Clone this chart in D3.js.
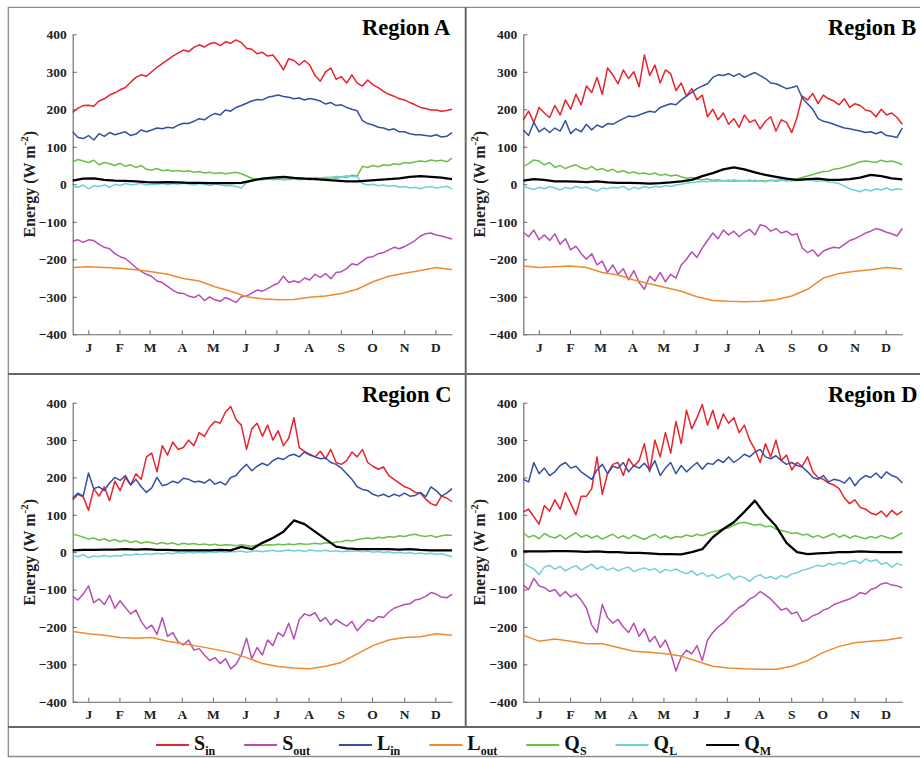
<!DOCTYPE html>
<html>
<head>
<meta charset="utf-8">
<script src="https://cdn.jsdelivr.net/npm/d3@7"></script>
<style>
  body { margin: 0; background: #fff; }
  svg { display: block; }
  text { font-family: "Liberation Serif", "Times New Roman", serif; font-weight: bold; }
</style>
</head>
<body>
<svg id="fig" width="920" height="758"></svg>
<script>
// ---- axis labels and ticks ----
const monthLabels = ["J","F","M","A","M","J","J","A","S","O","N","D"];
const monthMidDays = [15,45,74,105,135,166,196,227,258,288,319,349];
const energyTicks = [-400,-300,-200,-100,0,100,200,300,400];
const regionTitles = ["Region A","Region B","Region C","Region D"];

// ---- series (W m-2), evenly spaced through the year ----
const seriesKeys = ["Sin","Sout","Lin","Lout","QS","QL","QM"];
const seriesColors = ["#e8232b","#b84db3","#3550a3","#f08a2e","#6cbf48","#71cfdb","#000000"];
const seriesMain = ["S","S","L","L","Q","Q","Q"];
const seriesSub = ["in","out","in","out","S","L","M"];

// Region A
const aSin = [192,203,210,211,208,222, 228,238,244,252,258,272, 285,292,288,300,312,322, 332,342,350,358,354,365, 372,366,375,378,370,380, 376,385,378,363,360,348, 352,342,345,327,305,335, 330,318,330,318,290,275, 300,310,280,287,270,292, 270,262,278,265,258,248, 240,235,228,225,218,212, 205,202,198,198,195,197, 200];
const aSout = [-152,-148,-155,-148,-150,-160, -168,-172,-185,-193,-198,-210, -222,-232,-240,-246,-258,-262, -272,-282,-290,-291,-298,-302, -295,-310,-300,-308,-312,-302, -308,-315,-300,-298,-290,-282, -285,-278,-270,-264,-245,-262, -258,-262,-250,-255,-240,-248, -238,-252,-235,-233,-225,-212, -215,-205,-195,-193,-185,-182, -175,-168,-172,-166,-158,-150, -138,-132,-130,-135,-138,-142, -146];
const aLin = [140,125,122,130,118,135, 128,138,132,136,140,130, 134,145,140,145,150,148, 152,150,158,163,162,168, 175,172,182,189,185,198, 195,205,210,216,222,226, 225,232,235,238,234,232, 228,230,225,229,226,222, 214,218,210,212,205,200, 196,170,162,158,152,150, 145,148,140,140,135,132, 132,130,128,132,126,128, 138];
const aLout = [-222,-220,-222,-224,-228,-233,-240,-251,-258,-273,-285,-300,-305,-308,-307,-301,-298,-291,-280,-260,-245,-237,-230,-222,-228];
const aQS = [60,66,62,58,64,52, 58,55,50,56,48,52, 45,50,40,38,42,36, 38,35,37,34,36,32, 34,30,32,29,31,28, 30,32,28,22,16,14, 12,15,12,14,12,13, 15,12,14,12,16,14, 15,18,16,20,18,24, 22,48,45,50,47,52, 50,55,53,58,56,60, 62,60,65,62,64,60, 70];
const aQL = [-5,-8,-2,-12,-4,-6, -2,-8,0,-3,2,-1, 0,3,-2,1,0,2, -1,2,0,3,1,-2, 2,0,-3,1,-2,-4, -3,-6,-10,4,10,14, 12,15,14,16,13,15, 16,14,17,16,18,17, 19,18,21,20,23,21, 20,2,-2,0,-4,-2, -5,-3,-8,-6,-10,-8, -12,-8,-6,-10,-8,-5, -12];
const aQM = [10,15,16,12,10,9,8,6,5,6,5,4,4,3,3,3,4,10,15,18,20,17,15,14,12,10,8,8,10,12,14,16,20,22,20,18,14];

// Region B
const bSin = [172,195,165,205,190,178, 210,185,225,200,240,212, 262,245,285,240,310,292, 268,305,282,300,260,345, 290,318,270,305,295,250, 270,235,255,225,238,180, 200,172,190,160,175,152, 185,165,172,148,168,180, 142,172,165,138,178,235, 225,242,215,238,228,222, 212,228,205,215,210,198, 195,180,200,185,190,178, 160];
const bSout = [-128,-140,-122,-148,-135,-150, -132,-160,-145,-175,-165,-185, -200,-185,-215,-205,-235,-215, -240,-225,-255,-230,-262,-280, -245,-258,-235,-260,-240,-250, -215,-200,-180,-195,-170,-150, -130,-145,-122,-135,-125,-140, -128,-120,-135,-108,-112,-125, -118,-130,-125,-135,-132,-170, -182,-175,-192,-178,-172,-168, -170,-160,-150,-145,-138,-130, -125,-118,-122,-128,-132,-138, -118];
const bLin = [145,130,165,140,150,138, 150,142,170,135,148,140, 160,145,158,152,162,160, 168,175,182,180,185,190, 195,192,205,210,215,212, 225,235,245,255,262,268, 285,292,290,295,288,295, 285,292,298,290,282,270, 268,262,255,258,262,230, 215,200,175,168,165,160, 155,150,148,145,142,138, 140,135,140,130,128,125, 150];
const bLout = [-218,-222,-220,-218,-222,-235,-242,-255,-265,-275,-285,-300,-310,-312,-313,-312,-308,-298,-280,-250,-238,-232,-228,-222,-226];
const bQS = [48,55,65,62,52,58, 45,50,42,48,52,44, 40,48,38,42,35,40, 32,36,30,33,28,30, 26,30,24,27,22,25, 20,16,18,14,12,14, 10,12,9,11,8,10, 9,11,8,10,9,11, 10,12,9,11,14,18, 22,26,30,34,35,40, 42,46,50,55,60,62, 60,58,64,60,62,58, 52];
const bQL = [-5,-10,-14,-8,-12,-6, -10,-15,-8,-12,-6,-10, -8,-14,-18,-10,-12,-8, -10,-5,-15,-8,-12,-6, -10,-5,-8,-3,-6,-2, 0,3,5,6,8,7, 9,8,10,8,12,9, 10,8,11,9,7,10, 8,10,12,9,11,10, 12,10,8,10,6,5, 2,-5,-12,-16,-20,-14, -18,-12,-15,-10,-16,-12, -14];
const bQM = [10,14,12,8,8,7,6,8,5,4,4,3,2,3,5,8,12,22,30,40,45,40,32,25,20,15,12,14,15,12,12,14,18,25,22,16,13];

// Region C
const cSin = [140,155,148,112,170,150, 175,138,190,165,200,180, 210,195,255,265,215,285, 260,295,275,280,300,285, 320,310,335,350, 345,375,390,355,340,275,330,345,310,340,300,325,285,305,360,280,270,262, 255,270,250,275,240,235,245,268, 255,275,240,230,222,228, 205,195,185,175,170,160, 158,142,130,125,150,145, 135];
const cSout = [-118,-128,-112,-90,-135,-125, -140,-115,-150,-130,-148,-165, -155,-185,-205,-195,-220,-175, -225,-215,-240,-248,-235,-262, -258,-275,-290,-282,-298,-285, -312,-300,-275,-230,-285,-255, -275,-235,-250,-215,-225,-190, -232,-180,-165,-170,-162,-185, -175,-195,-180,-190,-198,-185, -210,-195,-180,-185,-172,-175, -160,-150,-145,-140,-138,-128, -125,-118,-108,-112,-120,-122, -112];
const cLin = [145,158,150,212,170,175, 165,185,200,192,205,180, 195,175,160,172,200,178, 182,190,185,198,195,188, 190,185,195,182,188,180, 200,205,222,235,218,230, 238,232,245,252,248,258, 262,255,268,260,255,250, 252,240,235,225,210,195, 175,168,165,155,150,155, 148,155,150,158,150,152, 160,148,175,165,150,158, 170];
const cLout = [-212,-218,-222,-228,-230,-228,-238,-245,-252,-260,-268,-282,-298,-306,-310,-312,-305,-295,-272,-250,-235,-228,-226,-218,-222];
const cQS = [48,45,40,35,38,32, 36,30,34,28,32,26, 30,24,28,25,22,26, 22,25,20,24,21,23, 20,22,19,21,18,20, 19,17,20,18,16,19, 18,20,19,21,20,22, 20,23,21,22,24,22, 25,24,27,28,32,30, 34,36,38,36,40,38, 42,40,44,42,46,48, 44,42,45,40,44,46, 45];
const cQL = [-8,-12,-6,-15,-10,-12, -8,-12,-9,-10,-6,-8, -5,-7,-4,-6,-3,-5, -2,-4,-1,-3,0,-2, 0,-2,1,-1,2,0, 2,1,3,0,2,4, 1,3,5,2,4,6, 3,5,2,6,4,3, 5,2,4,1,3,2, 4,1,3,0,2,-1, 1,-2,0,-3,-1,-4, -2,-5,-3,-6,-4,-8, -12];
const cQM = [5,6,6,7,7,8,7,8,6,6,5,5,5,5,6,5,14,8,25,38,55,85,75,55,35,15,10,8,8,8,8,7,8,6,5,5,5];

// Region D
const dSin = [108,115,95,75,125,110, 140,115,160,130,100,150, 150,170,255,155,210,235, 240,205,250,230,245,290, 215,300,255,320,265,350, 290,380,330,360,395,340, 380,330,370,345,360,320, 340,300,275,240,290,255, 300,245,260,220,240,230, 255,215,200,195,185,180, 170,145,130,140,120,115, 105,100,110,95,112,100, 110];
const dSout = [-88,-100,-70,-90,-95,-105, -100,-118,-105,-120,-112,-128, -150,-195,-215,-140,-175,-190, -180,-200,-215,-190,-225,-205, -240,-225,-255,-235,-270,-318, -280,-262,-272,-250,-290,-235, -215,-200,-190,-175,-160,-148, -140,-125,-118,-105,-115,-125, -140,-155,-150,-165,-160,-185, -180,-170,-165,-155,-150,-140, -135,-130,-125,-118,-108,-112, -100,-95,-85,-82,-88,-90, -95];
const dLin = [195,188,240,210,225,205, 215,232,240,225,230,215, 205,195,220,235,210,230, 225,240,215,232,225,238, 220,245,205,225,240,210, 232,215,228,240,222,238, 235,248,240,255,240,250, 262,255,268,275,255,250, 258,245,235,240,232,228, 215,200,195,205,188,195, 192,185,200,178,195,205, 200,212,198,215,205,200, 185];
const dLout = [-222,-238,-232,-238,-245,-245,-255,-265,-268,-272,-278,-292,-305,-310,-312,-313,-313,-305,-290,-268,-252,-242,-238,-235,-228];
const dQS = [52,40,45,36,50,42, 38,46,35,44,52,40, 46,38,44,35,42,48, 38,44,36,46,40,34, 42,48,38,44,36,42, 40,46,42,48,44,50, 55,58,62,65,72,78, 80,76,72,75,68,70, 62,58,55,50,52,46, 48,40,45,38,44,50, 40,46,38,44,40,36, 42,38,45,40,36,44, 52];
const dQL = [-28,-38,-45,-60,-40,-35, -45,-38,-50,-42,-36,-48, -40,-32,-45,-38,-48,-42, -50,-44,-40,-52,-46,-42, -48,-44,-55,-46,-50,-45, -52,-58,-50,-62,-55,-65, -60,-70,-62,-58,-72,-64, -68,-78,-66,-60,-70,-65, -72,-62,-68,-58,-55,-48, -45,-40,-35,-38,-30,-34, -28,-32,-25,-22,-30,-18, -25,-20,-32,-28,-40,-30, -35];
const dQM = [2,2,2,3,3,2,1,2,0,0,-2,-2,-3,-5,-5,-6,0,8,40,62,80,108,138,100,70,25,0,-5,-3,-2,0,0,2,1,0,0,0];

const regionSeries = [
  [aSin, aSout, aLin, aLout, aQS, aQL, aQM],
  [bSin, bSout, bLin, bLout, bQS, bQL, bQM],
  [cSin, cSout, cLin, cLout, cQS, cQL, cQM],
  [dSin, dSout, dLin, dLout, dQS, dQL, dQM]
];

// ---- layout ----
const frames = [
  {left: 72.7,  right: 452,   top: 34.3,  bottom: 334.3, titleX: 362, titleY: 35,  labelX: 35},
  {left: 523.3, right: 902.3, top: 34.3,  bottom: 334.3, titleX: 828, titleY: 35,  labelX: 485},
  {left: 72.7,  right: 452,   top: 402.7, bottom: 701.7, titleX: 362, titleY: 402, labelX: 35},
  {left: 523.3, right: 902.3, top: 402.7, bottom: 701.7, titleX: 828, titleY: 402, labelX: 485}
];

const serif = '"Liberation Serif", "Times New Roman", serif';
const svg = d3.select("#fig");

// figure frame and dividers
const lightFrame = "#8c8c8c", darkFrame = "#666";
svg.append("line").attr("x1", 8).attr("x2", 920).attr("y1", 7.3).attr("y2", 7.3)
  .attr("stroke", lightFrame).attr("stroke-width", 1.3);
svg.append("line").attr("x1", 8.3).attr("x2", 8.3).attr("y1", 7).attr("y2", 757)
  .attr("stroke", lightFrame).attr("stroke-width", 1.3);
svg.append("line").attr("x1", 8).attr("x2", 920).attr("y1", 756.5).attr("y2", 756.5)
  .attr("stroke", lightFrame).attr("stroke-width", 1.3);
svg.append("line").attr("x1", 465.7).attr("x2", 465.7).attr("y1", 7).attr("y2", 727)
  .attr("stroke", darkFrame).attr("stroke-width", 2);
svg.append("line").attr("x1", 8).attr("x2", 920).attr("y1", 374).attr("y2", 374)
  .attr("stroke", darkFrame).attr("stroke-width", 2);
svg.append("line").attr("x1", 8).attr("x2", 920).attr("y1", 727).attr("y2", 727)
  .attr("stroke", darkFrame).attr("stroke-width", 2);

frames.forEach((f, p) => {
  const x = d3.scaleLinear().domain([0, 365]).range([f.left, f.right]);
  const y = d3.scaleLinear().domain([-400, 400]).range([f.bottom, f.top]);
  const g = svg.append("g");

  // axes with inward ticks
  const yAxis = d3.axisLeft(y).tickValues(energyTicks).tickSizeInner(-4).tickSizeOuter(0).tickPadding(6);
  const xAxis = d3.axisBottom(x).tickValues(monthMidDays).tickFormat((d, i) => monthLabels[i])
    .tickSizeInner(-4).tickSizeOuter(0).tickPadding(8);

  const gy = g.append("g").attr("transform", `translate(${f.left},0)`).call(yAxis);
  const gx = g.append("g").attr("transform", `translate(0,${f.bottom})`).call(xAxis);
  [gx, gy].forEach(ax => {
    ax.attr("font-family", serif).attr("font-size", 13.5).attr("font-weight", "bold");
    ax.select(".domain").attr("stroke", "#666").attr("stroke-width", 1.1);
    ax.selectAll(".tick line").attr("stroke", "#666");
    ax.selectAll(".tick text").attr("fill", "#222")
      .style("font-family", serif).style("font-weight", "bold").style("font-size", "13.5px");
  });

  // data lines
  const series = regionSeries[p];
  seriesKeys.forEach((k, s) => {
    const vals = series[s];
    const n = vals.length;
    const line = d3.line()
      .x((d, i) => x(i * 365 / (n - 1)))
      .y(d => y(d));
    g.append("path").datum(vals)
      .attr("d", line)
      .attr("fill", "none")
      .attr("stroke", seriesColors[s])
      .attr("stroke-width", k === "QM" ? 2.3 : 1.5)
      .attr("stroke-linejoin", "round");
  });

  // region title
  g.append("text").attr("x", f.titleX).attr("y", f.titleY)
    .style("font-size", "22.5px").attr("fill", "#000").text(regionTitles[p]);

  // y-axis label
  const cy = (f.top + f.bottom) / 2;
  const lbl = g.append("text")
    .attr("transform", `translate(${f.labelX},${cy}) rotate(-90)`)
    .attr("text-anchor", "middle")
    .style("font-size", "16px").attr("fill", "#222");
  lbl.append("tspan").text("Energy (W m");
  lbl.append("tspan").attr("dy", -7).style("font-size", "11px").text("-2");
  lbl.append("tspan").attr("dy", 7).text(")");
});

// legend
const legend = svg.append("g");
let lx = 156;
const ly = 745;
seriesKeys.forEach((k, s) => {
  legend.append("line").attr("x1", lx).attr("x2", lx + 33).attr("y1", ly).attr("y2", ly)
    .attr("stroke", seriesColors[s]).attr("stroke-width", 2);
  const t = legend.append("text").attr("x", lx + 38).attr("y", 750).attr("fill", "#111");
  t.append("tspan").style("font-size", "20px").text(seriesMain[s]);
  t.append("tspan").attr("dy", 4.5).style("font-size", "12px").text(seriesSub[s]);
  lx = lx + 38 + t.node().getComputedTextLength() + 29;
});
</script>
</body>
</html>
